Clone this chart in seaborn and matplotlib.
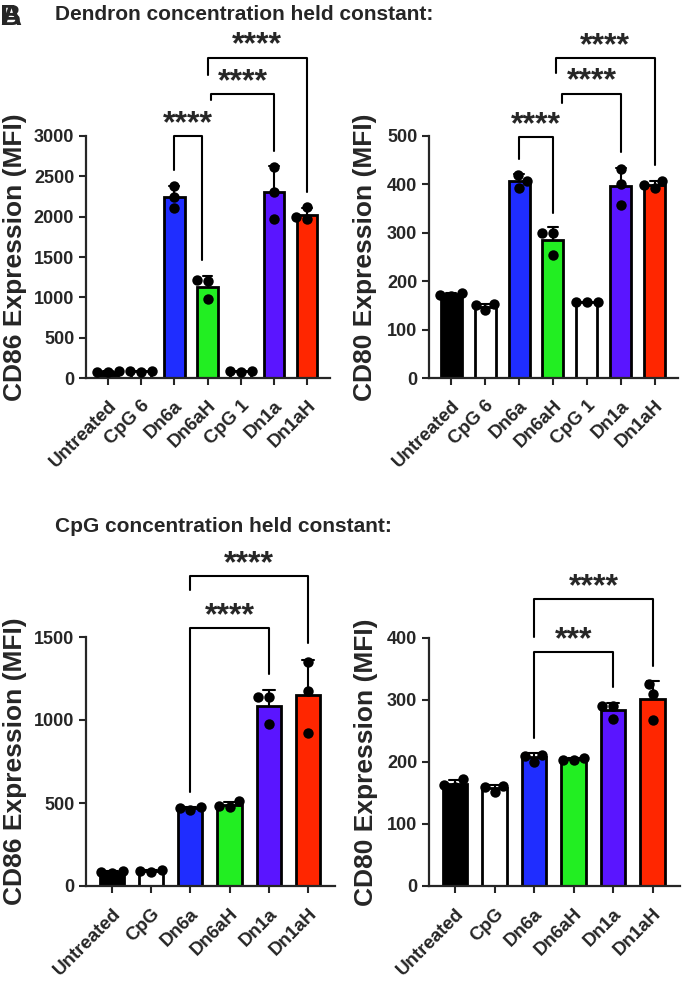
import numpy as np
import pandas as pd
import matplotlib
matplotlib.use('Agg')
import matplotlib.pyplot as plt
import matplotlib.transforms as mtransforms
import seaborn as sns

# Groups and bar colours
groups_dendron = ['Untreated', 'CpG 6', 'Dn6a', 'Dn6aH', 'CpG 1', 'Dn1a', 'Dn1aH']
groups_cpg = ['Untreated', 'CpG', 'Dn6a', 'Dn6aH', 'Dn1a', 'Dn1aH']
colors_dendron = ['#000000', '#ffffff', '#1f2dff', '#22ee22', '#ffffff', '#5a15ff', '#ff2600']
colors_cpg = ['#000000', '#ffffff', '#1f2dff', '#22ee22', '#5a15ff', '#ff2600']

# Replicates (MFI)
cd86_dendron = [[70, 80, 85], [75, 85, 90], [2380, 2250, 2110], [1215, 1205, 980],
                [75, 85, 90], [2620, 2310, 1975], [2120, 1990, 1970]]
cd80_dendron = [[176, 172, 170], [140, 152, 150], [420, 393, 408], [300, 300, 255],
                [158, 157, 156], [432, 400, 358], [408, 392, 398]]
cd86_cpg = [[80, 85, 90], [85, 95, 90], [460, 470, 475], [480, 510, 475],
            [1140, 1140, 975], [1349, 1174, 921]]
cd80_cpg = [[172, 160, 163], [152, 162, 160], [200, 210, 212], [203, 206, 204],
            [290, 290, 270], [326, 310, 268]]

# Significance comparisons: (left bar, right bar, stars)
sig_cd86_dendron = [(2, 3, '****'), (3, 5, '****'), (3, 6, '****')]
sig_cd80_dendron = [(2, 3, '****'), (3, 5, '****'), (3, 6, '****')]
sig_cd86_cpg = [(2, 4, '****'), (2, 5, '****')]
sig_cd80_cpg = [(2, 4, '***'), (2, 5, '****')]

# Bracket geometry (x shifts, top, left leg end, right leg end)
br_cd86_dendron = [(0, -0.17, 3000, 2580, 1463), (0.12, 0, 3520, 3450, 2815), (0, 0, 3970, 3760, 2310)]
br_cd80_dendron = [(0, 0, 497, 453, 340), (0.27, 0, 587, 569, 466), (0.09, 0, 661, 630, 441)]
br_cd86_cpg = [(0, 0, 1553, 566, 1276), (0, 0, 1866, 1782, 1463)]
br_cd80_cpg = [(0, 0, 377, 239, 321), (0, 0, 463, 402, 355)]

sns.set_style('ticks')
plt.rcParams['font.family'] = ['Liberation Sans', 'DejaVu Sans']
plt.rcParams['font.weight'] = 'bold'
plt.rcParams['axes.labelweight'] = 'bold'

fig = plt.figure(figsize=(6.82, 9.83), dpi=100)
label_shift = mtransforms.ScaledTranslation(-0.06, -0.02, fig.dpi_scale_trans)


def panel(rect, groups, colors, values, ylabel, ymax, ystep, xlim, sig, br, ylab_x):
    ax = fig.add_axes(rect)
    df = pd.DataFrame({'group': np.repeat(groups, 3), 'mfi': np.concatenate(values)})
    sns.barplot(data=df, x='group', y='mfi', hue='group', order=groups, hue_order=groups,
                palette=colors, saturation=1, legend=False, errorbar='sd', capsize=0.3,
                width=0.62, edgecolor='black', linewidth=2,
                err_kws={'color': 'black', 'linewidth': 1.5, 'zorder': 1}, ax=ax)
    for p in ax.patches:
        p.set_zorder(2)
    sns.swarmplot(data=df, x='group', y='mfi', order=groups, color='black', size=7.5,
                  ax=ax, zorder=3, clip_on=False)
    ax.set_ylim(0, ymax)
    ax.set_xlim(*xlim)
    ax.set_yticks(np.arange(0, ymax + 1, ystep))
    ax.set_xlabel('')
    ax.set_ylabel(ylabel, fontsize=19, fontweight='bold')
    ax.yaxis.set_label_coords(ylab_x, 0.5)
    ax.set_xticks(range(len(groups)))
    ax.set_xticklabels(groups, rotation=45, ha='right', rotation_mode='anchor', fontsize=13.5)
    for lab in ax.get_xticklabels():
        lab.set_transform(lab.get_transform() + label_shift)
    ax.tick_params(axis='y', labelsize=13, width=1.5, length=5)
    ax.tick_params(axis='x', width=1.5, length=5, pad=9)
    for s in ['left', 'bottom']:
        ax.spines[s].set_linewidth(1.6)
    sns.despine(ax=ax)

    for (x1, x2, label), (dx1, dx2, top, yl, yr) in zip(sig, br):
        xa, xb = x1 + dx1, x2 + dx2
        ax.plot([xa, xa, xb, xb], [yl, top, top, yr], color='black', lw=1.5, clip_on=False)
        ax.annotate(label, xy=((xa + xb) / 2, top), xytext=(0, 3), textcoords='offset points',
                    ha='center', va='baseline', fontsize=23, fontweight='bold',
                    annotation_clip=False)
    return ax


panel([86 / 682, 1 - 378 / 983, 244 / 682, 242 / 983], groups_dendron, colors_dendron,
      cd86_dendron, 'CD86 Expression (MFI)', 3000, 500, (-0.66, 6.69),
      sig_cd86_dendron, br_cd86_dendron, -0.243)
panel([429 / 682, 1 - 378 / 983, 249 / 682, 242 / 983], groups_dendron, colors_dendron,
      cd80_dendron, 'CD80 Expression (MFI)', 500, 100, (-0.66, 6.69),
      sig_cd80_dendron, br_cd80_dendron, -0.209)
panel([86 / 682, 1 - 886 / 983, 249 / 682, 249 / 983], groups_cpg, colors_cpg,
      cd86_cpg, 'CD86 Expression (MFI)', 1500, 500, (-0.66, 5.69),
      sig_cd86_cpg, br_cd86_cpg, -0.238)
panel([429 / 682, 1 - 886 / 983, 251 / 682, 248 / 983], groups_cpg, colors_cpg,
      cd80_cpg, 'CD80 Expression (MFI)', 400, 100, (-0.66, 5.69),
      sig_cd80_cpg, br_cd80_cpg, -0.205)

fig.text(55 / 682, 1 - 15 / 983, 'Dendron concentration held constant:', fontsize=15,
         fontweight='bold', va='center', ha='left')
fig.text(55 / 682, 1 - 527 / 983, 'CpG concentration held constant:', fontsize=15,
         fontweight='bold', va='center', ha='left')
fig.text(0.0, 1 - 3 / 983, 'A', fontsize=21, fontweight='bold', va='top', ha='left')
fig.text(0.0, 1 - 3 / 983, 'B', fontsize=21, fontweight='bold', va='top', ha='left')

fig.savefig('out.png', dpi=100)
